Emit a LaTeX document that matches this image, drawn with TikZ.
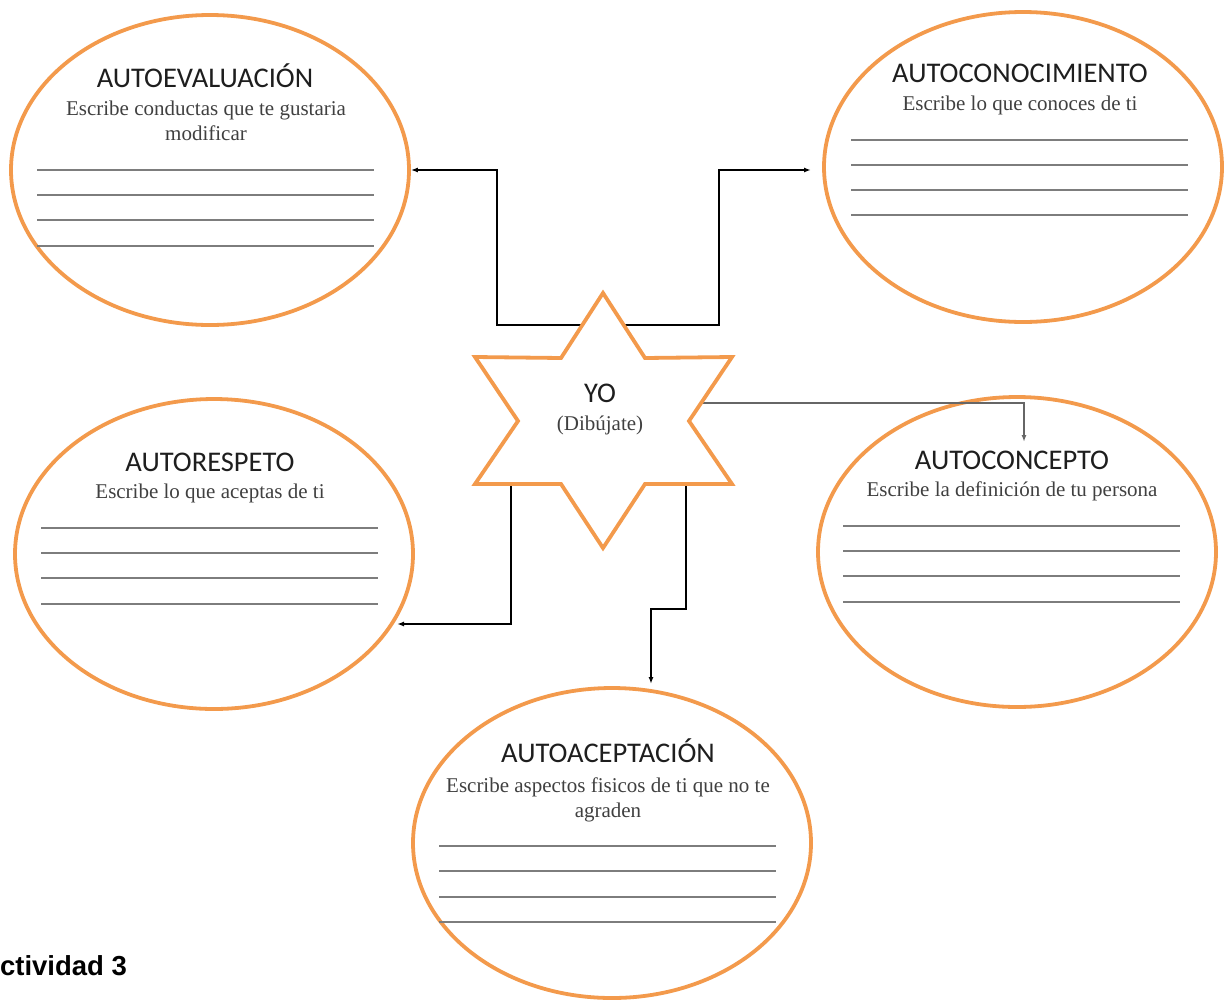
\documentclass[tikz,border=0pt]{standalone}
\usepackage{fontspec}
\setmainfont{Liberation Serif}
\newfontfamily\titulofont{Carlito}
\newfontfamily\actividadfont{Liberation Sans}
\usetikzlibrary{shapes.geometric, arrows.meta}

\definecolor{naranja}{RGB}{243,154,76}
\definecolor{renglon}{RGB}{125,125,125}
\definecolor{texto}{RGB}{30,30,30}

\tikzset{
  burbuja/.style     = {ellipse, draw=naranja, line width=3.8pt,
                        minimum width=398pt, minimum height=310pt, inner sep=0pt},
  titulo/.style      = {font=\titulofont\fontsize{28.5}{30}\selectfont,
                        text=texto, anchor=base, inner sep=0pt},
  instruccion/.style = {font=\fontsize{21}{25}\selectfont,
                        text=texto!85, anchor=base, inner sep=0pt},
  conector/.style    = {line width=1.4pt, -{Latex[length=7pt, width=5pt]}},
  estrella/.style    = {draw=naranja, line width=3.8pt, line join=miter},
}

\begin{document}
\begin{tikzpicture}[x=1pt, y=-1pt]

  % Page frame, same size as the worksheet

  \useasboundingbox (0,0) rectangle (1225,999);

  % The five bubbles around the star

  \node[burbuja] (autoeval)   at ( 210,170) {};
  \node[burbuja] (autocono)   at (1023,167) {};
  \node[burbuja] (autorresp)  at ( 214,554) {};
  \node[burbuja] (autoconcep) at (1017,552) {};
  \node[burbuja] (autoacep)   at ( 612,843) {};

  % Titles and instructions of each bubble

  \node[titulo]      (t-eval)   at ( 205, 87) {AUTOEVALUACIÓN};
  \node[instruccion] (i-eval)   at ( 206,115) {Escribe conductas que te gustaria};
  \node[instruccion] (i-eval2)  at ( 206,140) {modificar};

  \node[titulo]      (t-cono)   at (1020, 82) {AUTOCONOCIMIENTO};
  \node[instruccion] (i-cono)   at (1020,110) {Escribe lo que conoces de ti};

  \node[titulo]      (t-resp)   at ( 210,471) {AUTORESPETO};
  \node[instruccion] (i-resp)   at ( 210,498) {Escribe lo que aceptas de ti};

  \node[titulo]      (t-concep) at (1012,469) {AUTOCONCEPTO};
  \node[instruccion] (i-concep) at (1012,496) {Escribe la definición de tu persona};

  \node[titulo]      (t-acep)   at ( 608,762) {AUTOACEPTACIÓN};
  \node[instruccion] (i-acep)   at ( 608,792) {Escribe aspectos fisicos de ti que no te};
  \node[instruccion] (i-acep2)  at ( 608,817) {agraden};

  % Writing lines inside the bubbles

  \foreach \y in {170,195,220,246}
    \draw[renglon, line width=1.2pt] (37,\y) -- (374,\y);
  \foreach \y in {140,165,190,215}
    \draw[renglon, line width=1.2pt] (851,\y) -- (1188,\y);
  \foreach \y in {528,553,578,604}
    \draw[renglon, line width=1.2pt] (41,\y) -- (378,\y);
  \foreach \y in {526,551,576,602}
    \draw[renglon, line width=1.2pt] (843,\y) -- (1180,\y);
  \foreach \y in {846,871,897,922}
    \draw[renglon, line width=1.2pt] (439,\y) -- (776,\y);

  % Points of the star

  \coordinate (punta-n)  at (603,293);
  \coordinate (punta-ne) at (732,357);
  \coordinate (punta-se) at (732,484);
  \coordinate (punta-s)  at (603,548);
  \coordinate (punta-so) at (475,484);
  \coordinate (punta-no) at (475,357);

  % Where the connectors leave the star and where they arrive

  \coordinate (sal-eval)   at (581,325);
  \coordinate (sal-cono)   at (625,325);
  \coordinate (sal-concep) at (703,403);
  \coordinate (sal-resp)   at (511,486);
  \coordinate (sal-acep)   at (686,486);

  \coordinate (lleg-cono)   at ( 811,170);
  \coordinate (lleg-concep) at (1024,442);
  \coordinate (lleg-resp)   at ( 397,624);
  \coordinate (lleg-acep)   at ( 651,684);

  % Connectors

  \draw[conector] (sal-eval) -- ++(-84,0) |- (autoeval.east);
  \draw[conector] (sal-cono) -- ++( 94,0) |- (lleg-cono);
  \draw[conector, draw=black!60] (sal-concep) -| (lleg-concep);
  \draw[conector] (sal-resp) |- (lleg-resp);
  \draw[conector] (sal-acep) -- ++(0,123) -| (lleg-acep);

  % The star, drawn after the connectors

  \draw[estrella] (punta-n) -- (645,358) -- (punta-ne) -- (689,421)
    -- (punta-se) -- (645,484) -- (punta-s) -- (561,484)
    -- (punta-so) -- (518,421) -- (punta-no) -- (561,358) -- cycle;

  \node[titulo]      (yo)  at (600,402) {YO};
  \node[instruccion] (dib) at (600,430) {(Dibújate)};

  % Heading of the activity, cut at the left edge

  \node[anchor=base west, inner sep=0pt,
        font=\actividadfont\bfseries\fontsize{27.5}{30}\selectfont]
    (actividad) at (-20,975) {Actividad 3};

\end{tikzpicture}
\end{document}
